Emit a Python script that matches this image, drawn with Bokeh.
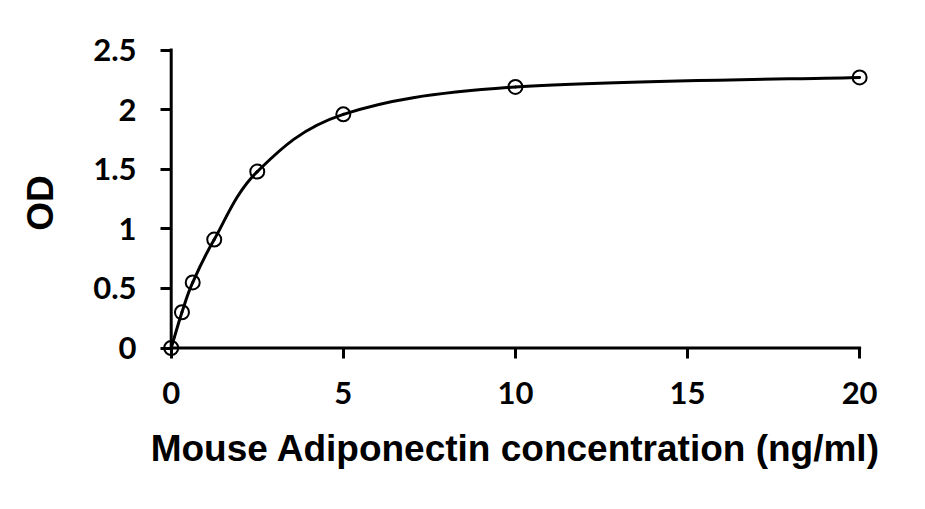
from bokeh.plotting import figure
from bokeh.models import Range1d, FixedTicker, NumeralTickFormatter
from bokeh.embed import file_html
from bokeh.resources import INLINE

# Data
conc = [0.0, 0.3125, 0.625, 1.25, 2.5, 5.0, 10.0, 20.0]
od = [0.0, 0.30, 0.55, 0.91, 1.48, 1.96, 2.19, 2.27]

x_ticks = [0, 5, 10, 15, 20]
y_ticks = [0, 0.5, 1, 1.5, 2, 2.5]
tick_format = "0.[0]"   # gives 0, 0.5, 1, 1.5, 2, 2.5 / 0, 5, 10, 15, 20

x_title = "Mouse Adiponectin concentration (ng/ml)"
y_title = "OD"

# Smoothed line through the points (Catmull-Rom style Bezier segments, as a spreadsheet "smoothed line")
n = len(conc)
def pt(i):
    i = max(0, min(n - 1, i))
    return conc[i], od[i]

bx0, by0, bx1, by1, bcx0, bcy0, bcx1, bcy1 = [], [], [], [], [], [], [], []
for i in range(n - 1):
    p0 = pt(i - 1); p1 = pt(i); p2 = pt(i + 1); p3 = pt(i + 2)
    bx0.append(p1[0]); by0.append(p1[1])
    bx1.append(p2[0]); by1.append(p2[1])
    bcx0.append(p1[0] + (p2[0] - p0[0]) / 6.0)
    bcy0.append(p1[1] + (p2[1] - p0[1]) / 6.0)
    bcx1.append(p2[0] - (p3[0] - p1[0]) / 6.0)
    bcy1.append(p2[1] - (p3[1] - p1[1]) / 6.0)

p = figure(frame_width=710, frame_height=311,
           x_range=Range1d(-0.311, 20.316), y_range=Range1d(-0.088, 2.521),
           output_backend="svg", toolbar_location=None,
           min_border_left=160, min_border_top=47, min_border_right=30, min_border_bottom=125)

p.xgrid.visible = False
p.ygrid.visible = False
p.outline_line_color = None
p.background_fill_color = "white"
p.border_fill_color = "white"

# axis lines at the data origin, spanning the tick range
p.segment(x0=[x_ticks[0], x_ticks[0]], y0=[y_ticks[0], y_ticks[0]],
          x1=[x_ticks[-1], x_ticks[0]], y1=[y_ticks[0], y_ticks[-1]],
          line_color="black", line_width=3, line_cap="square")

p.bezier(x0=bx0, y0=by0, x1=bx1, y1=by1, cx0=bcx0, cy0=bcy0, cx1=bcx1, cy1=bcy1,
         line_color="black", line_width=3, line_cap="round")
p.scatter(conc, od, marker="circle", size=14, fill_color=None,
          line_color="black", line_width=2)

tick_font = "Lato"
title_font = "Liberation Sans"

for ax, ticks in ((p.xaxis[0], x_ticks), (p.yaxis[0], y_ticks)):
    ax.ticker = FixedTicker(ticks=ticks)
    ax.formatter = NumeralTickFormatter(format=tick_format)
    ax.axis_line_color = None
    ax.major_tick_line_width = 3
    ax.major_tick_line_color = "black"
    ax.major_tick_out = 0
    ax.minor_tick_line_color = None
    ax.major_label_text_font = tick_font
    ax.major_label_text_font_style = "bold"
    ax.major_label_text_font_size = "31px"
    ax.major_label_text_color = "black"
    ax.axis_label_text_font = title_font
    ax.axis_label_text_font_style = "bold"
    ax.axis_label_text_font_size = "37px"
    ax.axis_label_text_color = "black"

p.xaxis.major_tick_in = 11
p.yaxis.major_tick_in = 11
p.xaxis.axis_label = x_title
p.yaxis.axis_label = y_title
p.xaxis.major_label_standoff = 23
p.yaxis.major_label_standoff = 24
p.xaxis.axis_label_standoff = 21
p.yaxis.axis_label_standoff = 29

open("out.html", "w").write(file_html(p, INLINE))
